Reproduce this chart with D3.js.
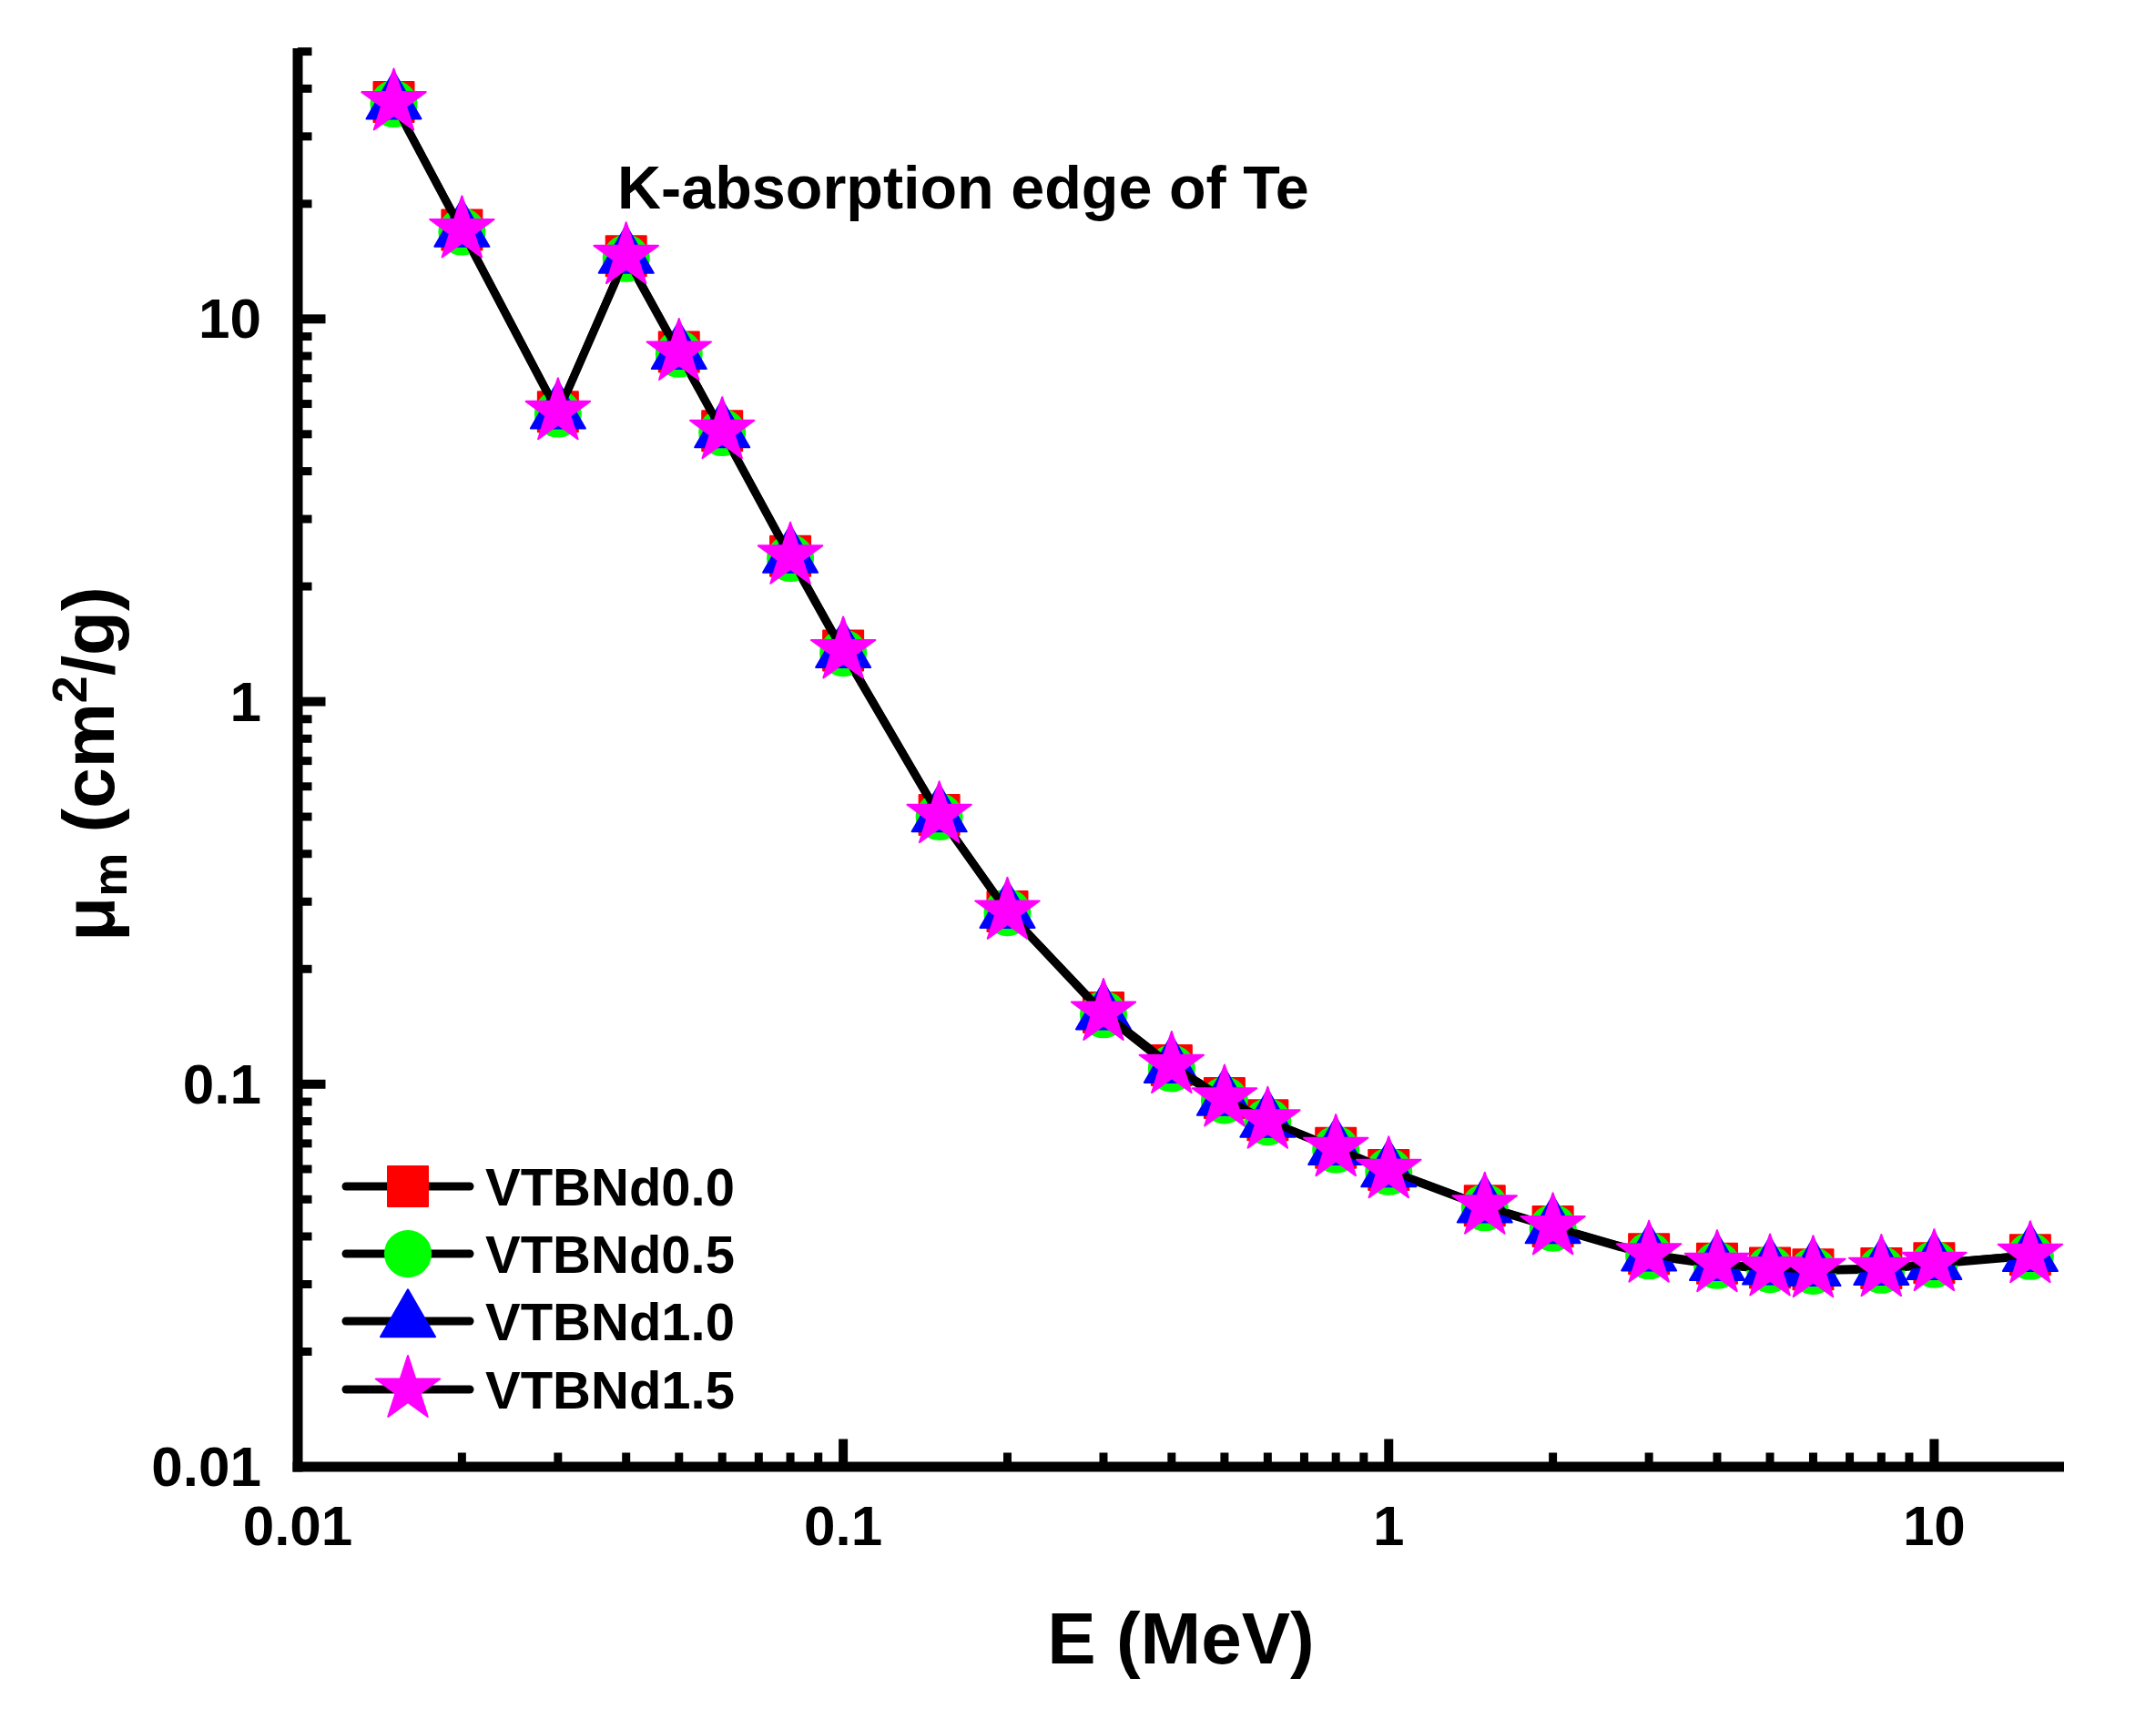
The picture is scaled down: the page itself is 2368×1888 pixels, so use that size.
<!DOCTYPE html>
<html>
<head>
<meta charset="utf-8">
<script src="https://cdn.jsdelivr.net/npm/d3@7"></script>
<style>
  html, body { margin: 0; padding: 0; background: #fff; }
  text { font-family: "Liberation Sans", Arial, Helvetica, sans-serif; font-weight: bold; }
</style>
</head>
<body>
<script>
// ---------------- data ----------------
const energies = [0.015, 0.02, 0.03, 0.04, 0.05, 0.06, 0.08, 0.1, 0.15, 0.2, 0.3, 0.4, 0.5, 0.6, 0.8, 1, 1.5, 2, 3, 4, 5, 6, 8, 10, 15];
const muNd00 = [36.9, 17.1, 5.72, 14.6, 8.20, 5.10, 2.40, 1.36, 0.506, 0.283, 0.154, 0.112, 0.0920, 0.0805, 0.0682, 0.0597, 0.0481, 0.0425, 0.0360, 0.0340, 0.0331, 0.0328, 0.0330, 0.0341, 0.0358];
const muNd05 = [36.5, 16.9, 5.65, 14.4, 8.10, 5.05, 2.37, 1.34, 0.500, 0.281, 0.152, 0.110, 0.0908, 0.0797, 0.0675, 0.0591, 0.0476, 0.0421, 0.0356, 0.0336, 0.0328, 0.0325, 0.0327, 0.0338, 0.0355];
const muNd10 = [36.7, 17.0, 5.69, 14.5, 8.15, 5.08, 2.39, 1.35, 0.503, 0.282, 0.153, 0.111, 0.0913, 0.0800, 0.0678, 0.0594, 0.0479, 0.0423, 0.0358, 0.0338, 0.0330, 0.0327, 0.0329, 0.0340, 0.0357];
const muNd15 = [36.8, 17.1, 5.72, 14.6, 8.18, 5.10, 2.40, 1.36, 0.505, 0.283, 0.154, 0.112, 0.0917, 0.0803, 0.0680, 0.0596, 0.0480, 0.0424, 0.0359, 0.0339, 0.0331, 0.0328, 0.0330, 0.0341, 0.0358];
const seriesNames = ["VTBNd0.0", "VTBNd0.5", "VTBNd1.0", "VTBNd1.5"];
const xTickValues = [0.01, 0.1, 1, 10];
const xTickLabels = ["0.01", "0.1", "1", "10"];
const yTickValues = [0.01, 0.1, 1, 10];
const yTickLabels = ["0.01", "0.1", "1", "10"];
const annotationText = "K-absorption edge of Te";
const xTitle = "E (MeV)";

// ---------------- layout ----------------
const W = 2368, H = 1888;
const pLeft = 327, pRight = 2267, pTop = 53, pBottom = 1611;

const svg = d3.select("body").append("svg")
  .attr("width", W).attr("height", H)
  .style("display", "block");

const x = d3.scaleLog().domain([0.01, 17.3]).range([pLeft, pRight]);
const y = d3.scaleLog().domain([0.01, 51]).range([pBottom, pTop]);

const series = [
  { name: seriesNames[0], values: muNd00, color: "#ff0000", shape: d3.symbolSquare, size: 1936 },
  { name: seriesNames[1], values: muNd05, color: "#00ff00", shape: d3.symbolCircle, size: 1963 },
  { name: seriesNames[2], values: muNd10, color: "#0000ff", shape: d3.symbolTriangle, size: 1560 },
  { name: seriesNames[3], values: muNd15, color: "#ff00ff", shape: d3.symbolStar, size: 1540 }
];

// ---------------- axes ----------------
const axisW = 11;
function minorTicks(domain) {
  const out = [];
  const lo = Math.floor(Math.log10(domain[0])), hi = Math.ceil(Math.log10(domain[1]));
  for (let e = lo; e <= hi; e++) {
    for (let m = 2; m <= 9; m++) {
      const v = m * Math.pow(10, e);
      if (v > domain[0] && v <= domain[1]) out.push(v);
    }
  }
  return out;
}

const gx = svg.append("g");
const gy = svg.append("g");

const xMajor = xTickValues.filter(v => v > 0.01);
gx.selectAll("line.xmin").data(minorTicks(x.domain())).enter().append("line")
  .attr("x1", d => x(d)).attr("x2", d => x(d))
  .attr("y1", pBottom).attr("y2", pBottom - axisW / 2 - 10)
  .attr("stroke", "#000").attr("stroke-width", 9);
gx.selectAll("line.xmaj").data(xMajor).enter().append("line")
  .attr("x1", d => x(d)).attr("x2", d => x(d))
  .attr("y1", pBottom).attr("y2", pBottom - axisW / 2 - 25)
  .attr("stroke", "#000").attr("stroke-width", 10);
gx.selectAll("text").data(xTickValues).enter().append("text")
  .attr("x", d => x(d)).attr("y", 1697)
  .attr("text-anchor", "middle").attr("font-size", 62)
  .text((d, i) => xTickLabels[i]);

const yMajor = yTickValues.filter(v => v > 0.01);
gy.selectAll("line.ymin").data(minorTicks(y.domain())).enter().append("line")
  .attr("y1", d => y(d)).attr("y2", d => y(d))
  .attr("x1", pLeft).attr("x2", pLeft + axisW / 2 + 10)
  .attr("stroke", "#000").attr("stroke-width", 9);
gy.selectAll("line.ymaj").data(yMajor).enter().append("line")
  .attr("y1", d => y(d)).attr("y2", d => y(d))
  .attr("x1", pLeft).attr("x2", pLeft + axisW / 2 + 25)
  .attr("stroke", "#000").attr("stroke-width", 10);
gy.selectAll("text").data(yTickValues).enter().append("text")
  .attr("x", 287).attr("y", d => y(d) + 21)
  .attr("text-anchor", "end").attr("font-size", 62)
  .text((d, i) => yTickLabels[i]);

svg.append("line").attr("x1", pLeft - axisW / 2).attr("x2", pRight)
  .attr("y1", pBottom).attr("y2", pBottom)
  .attr("stroke", "#000").attr("stroke-width", axisW);
svg.append("line").attr("x1", pLeft).attr("x2", pLeft)
  .attr("y1", pTop).attr("y2", pBottom + axisW / 2)
  .attr("stroke", "#000").attr("stroke-width", axisW);

// ---------------- series ----------------
const line = d3.line().x(d => x(d[0])).y(d => y(d[1]));
series.forEach(s => {
  const pts = energies.map((e, i) => [e, s.values[i]]);
  svg.append("path").datum(pts)
    .attr("d", line)
    .attr("fill", "none").attr("stroke", "#000").attr("stroke-width", 8)
    .attr("stroke-linejoin", "round");
  const sym = d3.symbol().type(s.shape).size(s.size);
  svg.append("g").selectAll("path").data(pts).enter().append("path")
    .attr("transform", d => `translate(${x(d[0])},${y(d[1])})`)
    .attr("d", sym)
    .attr("fill", s.color).attr("stroke", s.color).attr("stroke-width", 2)
    .attr("stroke-linejoin", "round");
});

// ---------------- legend ----------------
const legY = [1303, 1377, 1451, 1526];
series.forEach((s, i) => {
  const g = svg.append("g").attr("transform", `translate(0,${legY[i]})`);
  g.append("line").attr("x1", 380).attr("x2", 516).attr("y1", 0).attr("y2", 0)
    .attr("stroke", "#000").attr("stroke-width", 9).attr("stroke-linecap", "round");
  g.append("path").attr("transform", "translate(448,0)")
    .attr("d", d3.symbol().type(s.shape).size(s.size))
    .attr("fill", s.color).attr("stroke", s.color).attr("stroke-width", 2)
    .attr("stroke-linejoin", "round");
  g.append("text").attr("x", 533).attr("y", 21).attr("font-size", 58).text(s.name);
});

// ---------------- annotation & titles ----------------
svg.append("text").attr("x", 678).attr("y", 229).attr("font-size", 66.5).text(annotationText);

svg.append("text").attr("x", 1297).attr("y", 1827)
  .attr("text-anchor", "middle").attr("font-size", 80).text(xTitle);

const yt = svg.append("text")
  .attr("transform", "translate(125,839) rotate(-90)")
  .attr("text-anchor", "middle").attr("font-size", 80);
yt.append("tspan").text("μ");
yt.append("tspan").attr("font-size", 54).attr("dy", 14).text("m");
yt.append("tspan").attr("dy", -14).text(" (cm");
yt.append("tspan").attr("font-size", 54).attr("dy", -30).text("2");
yt.append("tspan").attr("dy", 30).text("/g)");
</script>
</body>
</html>
